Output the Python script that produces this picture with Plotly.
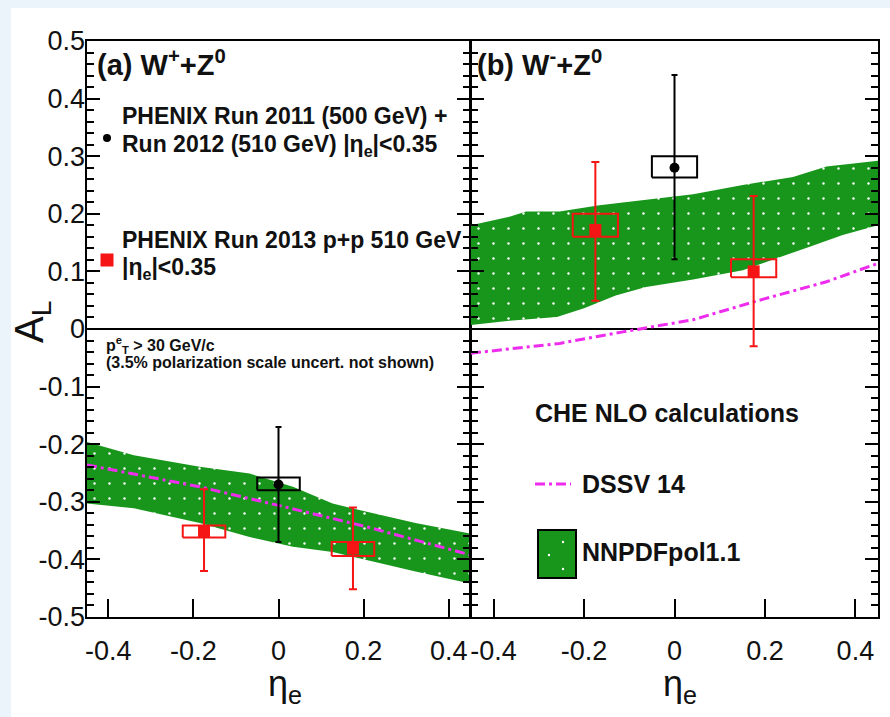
import plotly.graph_objects as go

# ---------------- data ----------------
# panel (a) W+ + Z0
a_blk_eta = [0.0]
a_blk_al = [-0.27]
a_blk_err_up = [0.10]
a_blk_err_dn = [0.10]
a_blk_sys_lo = [-0.280]
a_blk_sys_hi = [-0.258]

a_red_eta = [-0.175, 0.175]
a_red_al = [-0.352, -0.381]
a_red_err_up = [0.074, 0.071]
a_red_err_dn = [0.068, 0.071]
a_red_sys_lo = [-0.362, -0.394]
a_red_sys_hi = [-0.341, -0.370]

a_band_up_eta = [-0.45, -0.34, -0.185, -0.068, 0.034, 0.127, 0.205, 0.322, 0.45]
a_band_up = [-0.196, -0.219, -0.239, -0.251, -0.274, -0.303, -0.317, -0.337, -0.355]
a_band_lo_eta = [-0.45, -0.34, -0.185, -0.068, 0.034, 0.127, 0.205, 0.322, 0.45]
a_band_lo = [-0.303, -0.311, -0.337, -0.361, -0.378, -0.387, -0.401, -0.421, -0.442]

a_dssv_eta = [-0.45, -0.185, 0.01, 0.205, 0.45]
a_dssv = [-0.236, -0.274, -0.308, -0.343, -0.392]

# panel (b) W- + Z0
b_blk_eta = [0.0]
b_blk_al = [0.28]
b_blk_err_up = [0.161]
b_blk_err_dn = [0.159]
b_blk_sys_lo = [0.263]
b_blk_sys_hi = [0.300]

b_red_eta = [-0.175, 0.175]
b_red_al = [0.172, 0.100]
b_red_err_up = [0.118, 0.131]
b_red_err_dn = [0.123, 0.130]
b_red_sys_lo = [0.160, 0.090]
b_red_sys_hi = [0.200, 0.121]

b_band_up_eta = [-0.45, -0.365, -0.328, -0.254, -0.166, -0.063, 0.041, 0.151, 0.262, 0.336, 0.45]
b_band_up = [0.180, 0.195, 0.204, 0.204, 0.215, 0.225, 0.234, 0.250, 0.264, 0.282, 0.292]
b_band_lo_eta = [-0.45, -0.365, -0.260, -0.200, -0.130, -0.063, 0.041, 0.151, 0.225, 0.299, 0.372, 0.45]
b_band_lo = [0.007, 0.0145, 0.021, 0.036, 0.058, 0.073, 0.086, 0.102, 0.123, 0.143, 0.163, 0.180]

b_dssv_eta = [-0.45, -0.254, -0.114, 0.041, 0.188, 0.336, 0.45]
b_dssv = [-0.042, -0.025, -0.005, 0.016, 0.050, 0.082, 0.114]

sys_halfwidth = 0.05

x_tickvals = [-0.4, -0.2, 0.0, 0.2, 0.4]
x_ticktext = ["-0.4", "-0.2", "0", "0.2", "0.4"]
y_tickvals = [0.5, 0.4, 0.3, 0.2, 0.1, 0.0, -0.1, -0.2, -0.3, -0.4, -0.5]
y_ticktext = ["0.5", "0.4", "0.3", "0.2", "0.1", "0", "-0.1", "-0.2", "-0.3", "-0.4", "-0.5"]

# ---------------- styling ----------------
W, H = 890, 717
FONT = "Liberation Sans"
GREEN = "#17961b"
MAGENTA = "#ee2cee"
RED = "#f51515"
BLACK = "#000000"
DASH = "10px,4px,3px,4px"


def px(x):
    return x / W


def py(y):
    return 1 - y / H


fig = go.Figure()


def band(xa, ya, eta_up, up, eta_lo, lo):
    fig.add_trace(go.Scatter(
        x=list(eta_up) + list(eta_lo)[::-1],
        y=list(up) + list(lo)[::-1],
        xaxis=xa, yaxis=ya, mode="lines", fill="toself",
        fillcolor=GREEN, line=dict(width=0, color=GREEN),
        fillpattern=dict(shape=".", fgcolor="white", bgcolor=GREEN,
                         size=15, solidity=0.02, fillmode="replace"),
        showlegend=False, hoverinfo="skip"))


def dssv(xa, ya, eta, val):
    fig.add_trace(go.Scatter(
        x=eta, y=val, xaxis=xa, yaxis=ya, mode="lines",
        line=dict(color=MAGENTA, width=3, dash=DASH),
        showlegend=False, hoverinfo="skip"))


def sysboxes(xa, ya, eta, lo, hi, color):
    xs, ys = [], []
    for e, l, h in zip(eta, lo, hi):
        xs += [e - sys_halfwidth, e + sys_halfwidth, e + sys_halfwidth, e - sys_halfwidth, e - sys_halfwidth, None]
        ys += [l, l, h, h, l, None]
    fig.add_trace(go.Scatter(x=xs, y=ys, xaxis=xa, yaxis=ya, mode="lines",
                             line=dict(color=color, width=2), showlegend=False,
                             hoverinfo="skip"))


def points(xa, ya, eta, al, up, dn, color, symbol, size, capw):
    fig.add_trace(go.Scatter(
        x=eta, y=al, xaxis=xa, yaxis=ya, mode="markers",
        marker=dict(color=color, symbol=symbol, size=size, line=dict(width=0)),
        error_y=dict(type="data", symmetric=False, array=up, arrayminus=dn,
                     color=color, thickness=2, width=capw),
        showlegend=False))


# panel a
band("x", "y", a_band_up_eta, a_band_up, a_band_lo_eta, a_band_lo)
dssv("x", "y", a_dssv_eta, a_dssv)
sysboxes("x", "y", a_blk_eta, a_blk_sys_lo, a_blk_sys_hi, BLACK)
sysboxes("x", "y", a_red_eta, a_red_sys_lo, a_red_sys_hi, RED)
points("x", "y", a_blk_eta, a_blk_al, a_blk_err_up, a_blk_err_dn, BLACK, "circle", 10, 3)
points("x", "y", a_red_eta, a_red_al, a_red_err_up, a_red_err_dn, RED, "square", 12, 4)

# panel b
band("x2", "y2", b_band_up_eta, b_band_up, b_band_lo_eta, b_band_lo)
dssv("x2", "y2", b_dssv_eta, b_dssv)
sysboxes("x2", "y2", b_blk_eta, b_blk_sys_lo, b_blk_sys_hi, BLACK)
sysboxes("x2", "y2", b_red_eta, b_red_sys_lo, b_red_sys_hi, RED)
points("x2", "y2", b_blk_eta, b_blk_al, b_blk_err_up, b_blk_err_dn, BLACK, "circle", 10, 3)
points("x2", "y2", b_red_eta, b_red_al, b_red_err_up, b_red_err_dn, RED, "square", 12, 4)

ydom = [py(617), py(41)]
xdom_a = [px(87), px(470)]
xdom_b = [px(471), px(878)]

xcommon = dict(range=[-0.45, 0.45], tickmode="array", tickvals=x_tickvals, ticktext=x_ticktext,
               ticks="inside", ticklen=18, tickwidth=2, tickcolor=BLACK,
               showline=True, linecolor=BLACK, linewidth=2, mirror=True,
               showgrid=False, zeroline=False, automargin=False, layer="above traces",
               tickfont=dict(family=FONT, size=27, color="#111"),
               ticklabelstandoff=9)
# major tick marks
ycommon = dict(range=[-0.5, 0.5], tickmode="linear", tick0=0, dtick=0.1,
               ticks="inside", ticklen=13, tickwidth=2, tickcolor=BLACK,
               showline=True, linecolor=BLACK, linewidth=2, mirror="allticks",
               showgrid=False, zeroline=True, zerolinecolor=BLACK, zerolinewidth=2,
               showticklabels=False, automargin=False, layer="above traces")
# minor tick marks (separate overlay axes)
yminor = dict(range=[-0.5, 0.5], tickmode="linear", tick0=0, dtick=0.02,
              ticks="inside", ticklen=7, tickwidth=1.5, tickcolor=BLACK,
              showline=False, mirror="allticks", showgrid=False, zeroline=False,
              showticklabels=False, automargin=False, layer="above traces")

fig.update_layout(
    template="none",
    width=W, height=H, margin=dict(l=0, r=0, t=0, b=0, pad=0, autoexpand=False),
    paper_bgcolor="#ebf3fb", plot_bgcolor="rgba(0,0,0,0)",
    xaxis=dict(domain=xdom_a, anchor="y", **xcommon),
    yaxis=dict(domain=ydom, anchor="x", **ycommon),
    xaxis2=dict(domain=xdom_b, anchor="y2", **xcommon),
    yaxis2=dict(domain=ydom, anchor="x2", **ycommon),
    yaxis3=dict(domain=ydom, anchor="x", overlaying="y", side="left",
                range=[-0.5, 0.5], tickmode="array", tickvals=y_tickvals, ticktext=y_ticktext,
                ticks="", showline=False, showgrid=False, zeroline=False, automargin=False,
                tickfont=dict(family=FONT, size=27, color="#111"),
                ticklabelstandoff=1),
    yaxis4=dict(domain=ydom, anchor="x", overlaying="y", side="left", **yminor),
    yaxis5=dict(domain=ydom, anchor="x2", overlaying="y2", side="left", **yminor),
    showlegend=False,
)
# invisible traces so the overlay axes are rendered
for ya, xa in [("y3", "x"), ("y4", "x"), ("y5", "x2")]:
    fig.add_trace(go.Scatter(x=[None], y=[None], xaxis=xa, yaxis=ya,
                             mode="markers", showlegend=False, hoverinfo="skip"))

shapes = [
    dict(type="rect", xref="paper", yref="paper", x0=px(11), x1=1, y0=0, y1=py(8),
         fillcolor="white", line=dict(width=0), layer="below"),
    # legend glyphs panel (a)
    dict(type="circle", xref="paper", yref="paper", x0=px(103), x1=px(111),
         y0=py(142), y1=py(134), fillcolor=BLACK, line=dict(width=0)),
    dict(type="rect", xref="paper", yref="paper", x0=px(100.5), x1=px(113.5),
         y0=py(266.5), y1=py(253.5), fillcolor=RED, line=dict(width=0)),
    # legend glyphs panel (b)
    dict(type="line", xref="paper", yref="paper", x0=px(535), x1=px(571),
         y0=py(484), y1=py(484), line=dict(color=MAGENTA, width=3, dash=DASH)),
    dict(type="rect", xref="paper", yref="paper", x0=px(538), x1=px(576),
         y0=py(578), y1=py(530), fillcolor=GREEN, line=dict(color=BLACK, width=2)),
]
for (dx, dy) in [(563, 542), (549, 555), (563, 569)]:
    shapes.append(dict(type="circle", xref="paper", yref="paper", x0=px(dx - 1.2), x1=px(dx + 1.2),
                       y0=py(dy + 1.2), y1=py(dy - 1.2), fillcolor="white", line=dict(width=0)))
fig.update_layout(shapes=shapes)


def note(x, y, text, size, bold=True, anchor="left", angle=0):
    fig.add_annotation(xref="paper", yref="paper", x=px(x), y=py(y),
                       text=("<b>%s</b>" % text) if bold else text,
                       showarrow=False, xanchor=anchor, yanchor="middle",
                       textangle=angle,
                       font=dict(family=FONT, size=size, color="#111"))


note(95, 63, "(a) W<sup>+</sup>+Z<sup>0</sup>", 29)
note(475, 63, "(b) W<sup>-</sup>+Z<sup>0</sup>", 29)
note(120, 116, "PHENIX Run 2011 (500 GeV) +", 23)
note(120, 146, "Run 2012 (510 GeV) |η<sub>e</sub>|&lt;0.35", 23)
note(120, 240, "PHENIX Run 2013 p+p 510 GeV", 23)
note(120, 268, "|η<sub>e</sub>|&lt;0.35", 23)
note(104, 345, "p<sup>e</sup><sub>T</sub> &gt; 30 GeV/c", 16)
note(104, 362, "(3.5% polarization scale uncert. not shown)", 16)
note(533, 413, "CHE NLO calculations", 25)
note(580, 484, "DSSV 14", 25)
note(580, 552, "NNPDFpol1.1", 25)
note(32, 322, "A<sub>L</sub>", 40, bold=False, anchor="center", angle=-90)
note(285, 686, "η<sub>e</sub>", 36, bold=False, anchor="center")
note(680, 686, "η<sub>e</sub>", 36, bold=False, anchor="center")

fig.write_html("out.html")
